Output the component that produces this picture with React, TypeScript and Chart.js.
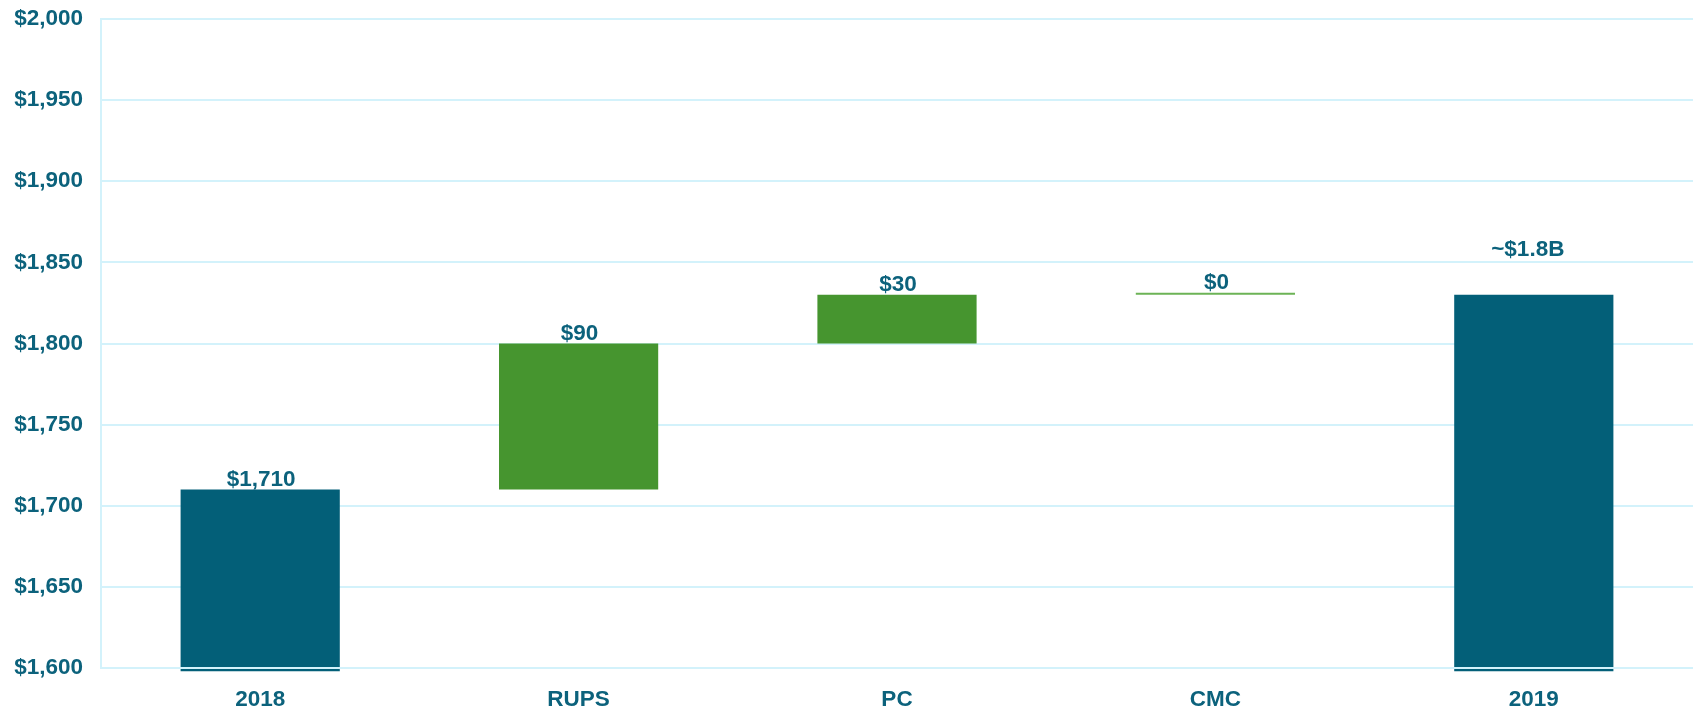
import React, { useEffect, useRef } from "react";
import { Chart, registerables } from "chart.js";

Chart.register(...registerables);

const categories = ["2018", "RUPS", "PC", "CMC", "2019"];
const barStarts = [1598, 1710, 1800, 1830, 1598];
const barEnds = [1710, 1800, 1830, 1830, 1830];
const valueLabels = ["$1,710", "$90", "$30", "$0", "~$1.8B"];
const yTickValues = [1600, 1650, 1700, 1750, 1800, 1850, 1900, 1950, 2000];

const TEAL = "#035f78";
const GREEN = "#46952f";
const LIGHT_GREEN = "#6cb356";
const TEXT = "#0c627c";
const GRID = "#d3f2fb";
const FONT = "'Liberation Sans', Arial, Helvetica, sans-serif";
const FONT_SIZE = 22.5;

const barColors = [TEAL, GREEN, GREEN, LIGHT_GREEN, TEAL];

const valueLabelPlugin = {
  id: "valueLabels",
  afterDatasetsDraw(chart: any) {
    const { ctx, chartArea } = chart;
    // redraw bottom axis line over the bars
    ctx.save();
    ctx.strokeStyle = GRID;
    ctx.lineWidth = 2;
    ctx.beginPath();
    ctx.moveTo(chartArea.left, chartArea.bottom);
    ctx.lineTo(chartArea.right, chartArea.bottom);
    ctx.stroke();

    const meta = chart.getDatasetMeta(0);
    ctx.font = `bold ${FONT_SIZE}px ${FONT}`;
    ctx.fillStyle = TEXT;
    ctx.textAlign = "center";
    ctx.textBaseline = "alphabetic";
    meta.data.forEach((bar: any, i: number) => {
      const topY = Math.min(bar.y, bar.base);
      const extra = i === categories.length - 1 ? 35 : 0;
      const dx = i === categories.length - 1 ? -6 : 1;
      ctx.fillText(valueLabels[i], bar.x + dx, topY - 4 - extra);
    });
    ctx.restore();
  },
};

export default function App() {
  const ref = useRef<HTMLCanvasElement | null>(null);

  useEffect(() => {
    if (!ref.current) return;
    const chart = new Chart(ref.current, {
      type: "bar",
      data: {
        labels: categories,
        datasets: [
          {
            data: categories.map((_, i) => [barStarts[i], barEnds[i]]) as any,
            backgroundColor: barColors,
            borderWidth: 0,
            barPercentage: 0.5,
            categoryPercentage: 1,
            minBarLength: 2,
            clip: false as any,
          },
        ],
      },
      options: {
        animation: false,
        responsive: true,
        maintainAspectRatio: false,
        layout: { padding: { top: 19, left: 0, right: 0, bottom: 0 } },
        plugins: {
          legend: { display: false },
          tooltip: { enabled: false },
        },
        scales: {
          x: {
            offset: true,
            grid: { display: false, drawTicks: false },
            border: { display: false },
            ticks: {
              color: TEXT,
              font: { family: FONT, size: FONT_SIZE, weight: "bold" },
              padding: 18,
              maxRotation: 0,
            },
            afterFit: (scale: any) => {
              scale.height = 43;
              scale.paddingLeft = 0;
              scale.paddingRight = 0;
            },
          },
          y: {
            min: 1600,
            max: 2000,
            afterBuildTicks: (scale: any) => {
              scale.ticks = yTickValues.map((v) => ({ value: v }));
            },
            grid: { color: GRID, lineWidth: 2, drawTicks: false },
            border: { display: true, color: GRID, width: 2 },
            ticks: {
              color: TEXT,
              font: { family: FONT, size: FONT_SIZE, weight: "bold" },
              padding: 18,
              callback: (v: any) => "$" + Number(v).toLocaleString("en-US"),
            },
            afterFit: (scale: any) => {
              scale.width = 101;
              scale.paddingTop = 0;
              scale.paddingBottom = 0;
            },
          },
        },
      },
      plugins: [valueLabelPlugin],
    });
    return () => chart.destroy();
  }, []);

  return (
    <div
      style={{
        position: "fixed",
        left: 0,
        top: 0,
        width: 1693,
        height: 711,
        background: "#ffffff",
      }}
    >
      <canvas ref={ref} />
    </div>
  );
}
